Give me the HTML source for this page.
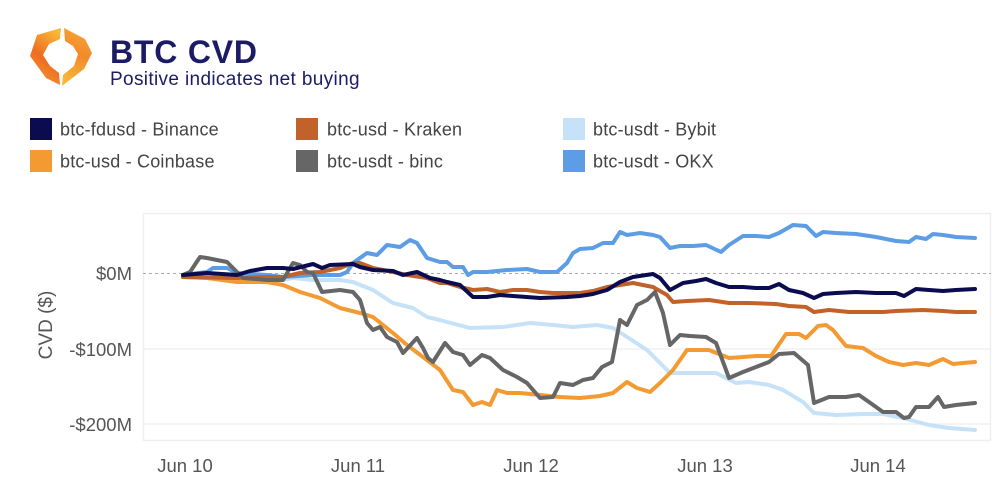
<!DOCTYPE html>
<html><head><meta charset="utf-8"><style>
html,body{margin:0;padding:0;background:#fff;}
svg{display:block;font-family:"Liberation Sans",Arial,sans-serif;}
</style></head><body>
<svg width="996" height="493" viewBox="0 0 996 493" xmlns="http://www.w3.org/2000/svg">
<defs>
<linearGradient id="g1" x1="0.7" y1="0" x2="0.3" y2="1">
<stop offset="0" stop-color="#f8b838"/><stop offset="0.55" stop-color="#ee6c22"/><stop offset="1" stop-color="#f49a30"/>
</linearGradient>
<linearGradient id="g2" x1="0.6" y1="0" x2="0.4" y2="1">
<stop offset="0" stop-color="#f6a534"/><stop offset="0.45" stop-color="#f28a2a"/><stop offset="1" stop-color="#f8ba3c"/>
</linearGradient>
</defs>
<rect width="996" height="493" fill="#fff"/>
<!-- logo -->
<polygon points="61,28 37,35 30,56 46,78 60,85 59,73 50,66 43,55 49,44 60,39" fill="url(#g1)"/>
<polygon points="64,28 85,39 92,53 84,69 62,86 63,75 74,66 78,54 73,46 65,41" fill="url(#g2)"/>
<text x="110" y="63" font-size="32" font-weight="bold" fill="#1c1c66" letter-spacing="0.8">BTC CVD</text>
<text x="110" y="85" font-size="19" fill="#1c1c66" letter-spacing="0.35">Positive indicates net buying</text>
<!-- legend -->
<g font-size="18" fill="#444" letter-spacing="0.2">
<rect x="30" y="118" width="22" height="22" fill="#0b0b4f"/><text x="60" y="135.5">btc-fdusd - Binance</text>
<rect x="30" y="150" width="22" height="22" fill="#f39a33"/><text x="60" y="167.5">btc-usd - Coinbase</text>
<rect x="296" y="118" width="22" height="22" fill="#c0622a"/><text x="327" y="135.5">btc-usd - Kraken</text>
<rect x="296" y="150" width="22" height="22" fill="#666666"/><text x="327" y="167.5">btc-usdt - binc</text>
<rect x="563" y="118" width="22" height="22" fill="#c6e2f8"/><text x="593" y="135.5">btc-usdt - Bybit</text>
<rect x="563" y="150" width="22" height="22" fill="#5c9de6"/><text x="593" y="167.5">btc-usdt - OKX</text>
</g>
<!-- plot frame -->
<rect x="143.5" y="213.5" width="847" height="227" fill="none" stroke="#efefef" stroke-width="1.5"/>
<line x1="143" y1="349" x2="991" y2="349" stroke="#f0f0f0" stroke-width="1.5"/>
<line x1="143" y1="424" x2="991" y2="424" stroke="#f0f0f0" stroke-width="1.5"/>
<line x1="143" y1="273.5" x2="991" y2="273.5" stroke="#aaa" stroke-width="1" stroke-dasharray="3,3"/>
<!-- axis labels -->
<g font-size="18.5" fill="#555" text-anchor="end">
<text x="132" y="280">$0M</text>
<text x="132" y="356">-$100M</text>
<text x="132" y="431">-$200M</text>
</g>
<text transform="translate(52,325) rotate(-90)" font-size="19" fill="#555" text-anchor="middle">CVD ($)</text>
<g font-size="18.5" fill="#555" text-anchor="middle">
<text x="185" y="472">Jun 10</text>
<text x="358" y="472">Jun 11</text>
<text x="531" y="472">Jun 12</text>
<text x="705" y="472">Jun 13</text>
<text x="878" y="472">Jun 14</text>
</g>
<!-- series -->
<g fill="none" stroke-width="4" stroke-linejoin="round" stroke-linecap="round">
<!-- Bybit -->
<polyline stroke="#c6e2f8" points="183,275 237,280 267,280 283,280 293,278 313,280 340,280 353,282 373,290 393,303 413,308 427,317 440,320 447,322 470,328 503,327 530,323 553,325 573,327 597,325 613,328 627,337 647,350 660,363 670,373 687,373 716,373 736,383 749,382 769,385 783,390 803,402 814,413 836,415 863,414 883,414 903,418 929,425 949,428 975,430"/>
<!-- OKX -->
<polyline stroke="#5c9de6" points="183,275 207,272 213,268 227,268 237,273 267,275 283,277 313,275 340,275 347,272 353,263 367,253 377,255 387,245 400,247 410,240 417,243 427,258 440,262 447,262 453,267 463,267 468,275 473,272 487,272 507,270 527,269 540,272 557,272 567,263 573,253 580,249 593,248 603,243 613,243 620,232 627,235 640,233 653,235 660,237 670,248 680,246 693,246 706,245 721,252 729,245 743,236 756,236 769,237 779,233 793,225 806,226 816,236 823,232 836,233 856,234 876,237 896,241 909,242 916,237 926,239 933,234 943,235 956,237 975,238"/>
<!-- Coinbase -->
<polyline stroke="#f39a33" points="183,277 207,278 237,282 267,282 283,285 300,292 320,298 340,308 360,313 373,317 393,333 407,345 427,360 440,370 453,390 463,392 473,405 482,402 490,405 497,390 507,393 520,393 540,395 560,397 580,398 600,396 613,393 627,382 637,388 650,392 660,383 673,370 687,350 709,350 729,358 743,357 756,356 771,356 786,334 799,334 806,338 818,326 826,325 833,330 846,346 863,348 876,356 889,362 903,365 916,363 929,365 943,359 953,364 963,363 975,362"/>
<!-- Kraken -->
<polyline stroke="#c0622a" points="183,277 237,278 267,277 283,277 300,273 320,272 340,268 353,263 360,263 373,268 393,272 407,275 427,278 440,283 447,283 460,287 473,290 487,289 500,292 513,290 527,290 540,292 553,293 580,293 593,291 607,287 620,285 633,283 653,287 667,295 673,302 687,301 709,300 729,303 749,303 776,304 789,306 806,307 814,312 829,310 849,312 869,312 883,312 896,311 923,310 943,311 956,312 975,312"/>
<!-- binc -->
<polyline stroke="#666666" points="183,275 190,272 200,257 207,258 227,262 237,272 243,278 267,280 283,280 293,263 300,265 307,272 313,273 322,292 340,290 353,292 360,300 367,323 373,330 380,327 387,337 397,342 403,353 417,338 423,348 428,358 433,362 445,343 453,352 463,355 470,365 482,355 490,358 503,370 517,377 527,383 540,398 553,397 560,383 573,385 583,380 593,378 602,367 612,362 620,320 627,325 637,305 647,300 655,292 663,313 670,345 680,335 690,336 706,337 716,343 729,378 743,372 756,367 769,362 779,354 794,353 808,365 814,403 829,397 846,397 859,395 869,402 883,412 896,412 904,418 909,417 916,407 929,407 938,397 944,407 956,405 975,403"/>
<!-- Binance -->
<polyline stroke="#0b0b4f" points="183,275 207,273 237,275 250,271 267,268 283,268 293,269 313,264 322,268 330,265 353,264 360,267 373,270 393,271 403,275 417,272 430,278 440,280 447,282 460,285 473,297 487,297 500,295 513,296 540,298 567,297 580,296 593,294 607,290 620,282 633,277 653,274 660,278 670,290 683,283 696,281 706,279 716,283 729,287 743,287 756,288 769,288 779,284 789,290 803,293 814,298 823,294 836,293 856,292 876,293 896,293 904,296 916,289 929,290 943,291 956,290 975,289"/>
</g>
</svg>
</body></html>
